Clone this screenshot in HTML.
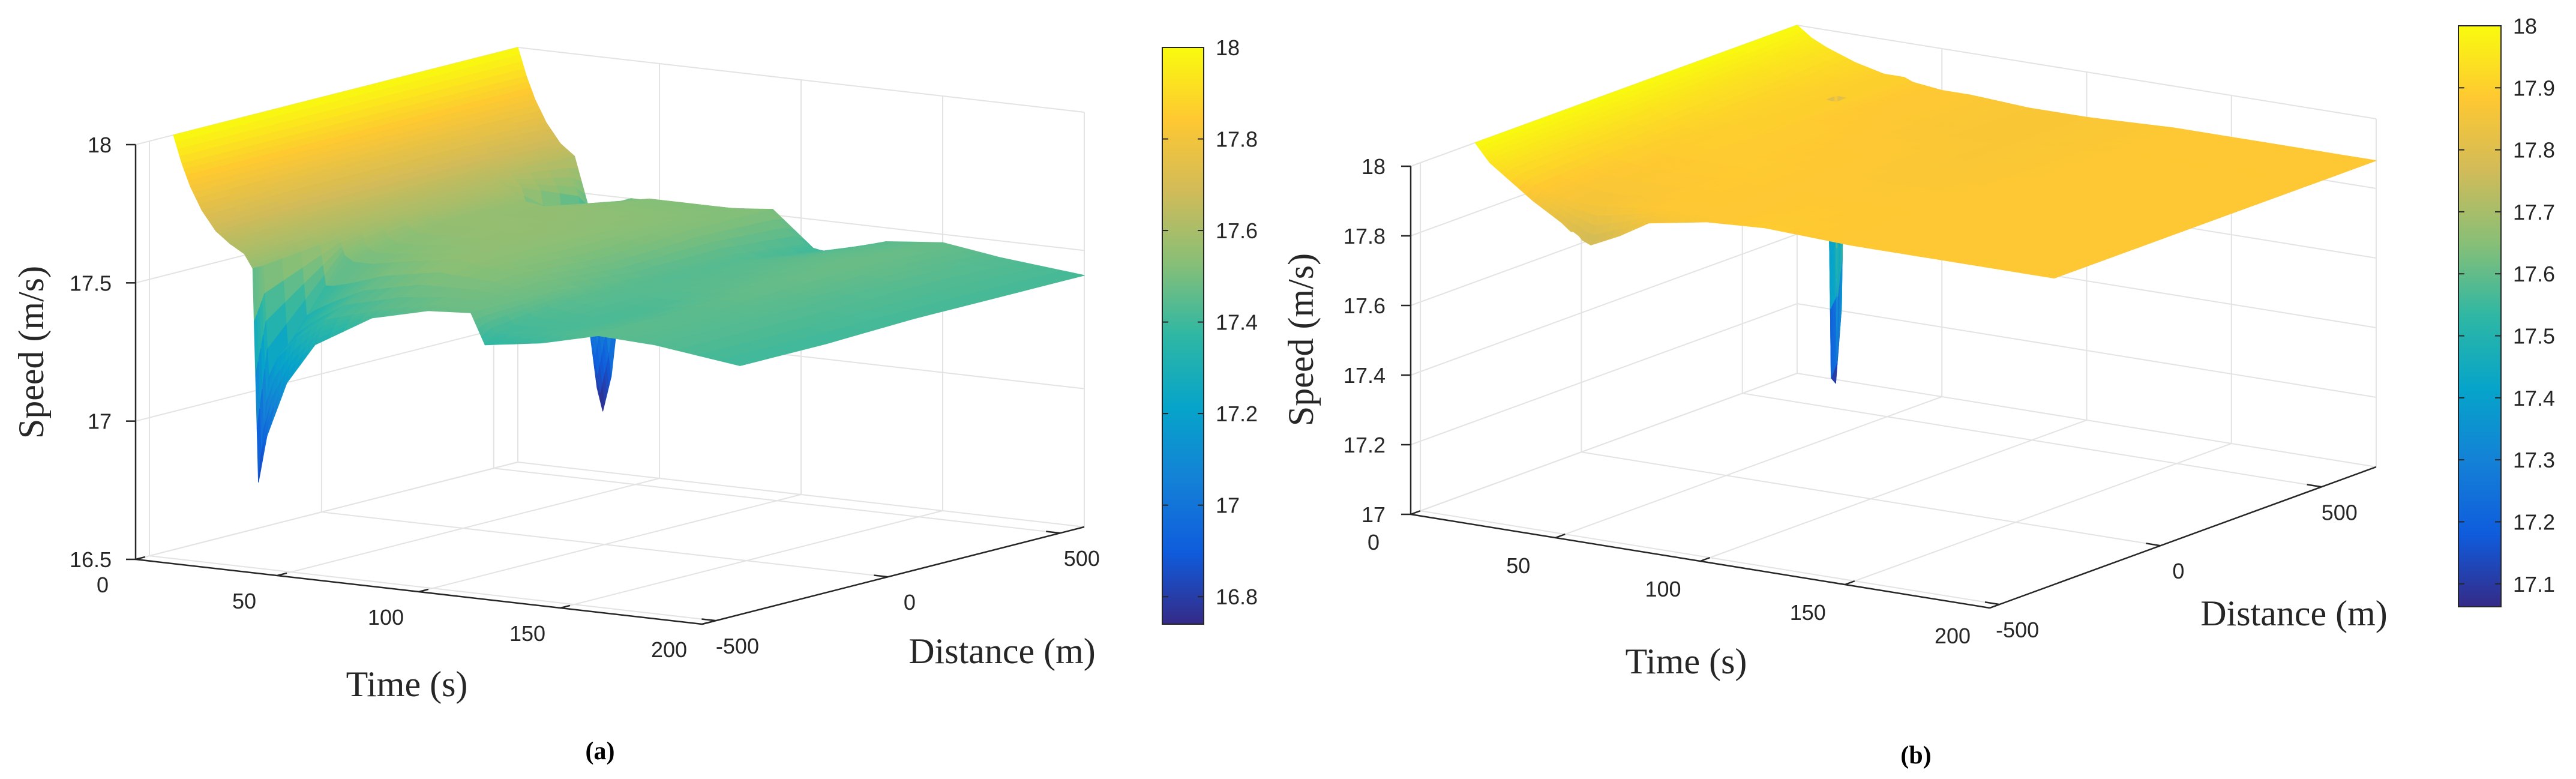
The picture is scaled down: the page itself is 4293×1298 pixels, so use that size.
<!DOCTYPE html>
<html><head><meta charset="utf-8"><style>
html,body{margin:0;padding:0;background:#fff;}
svg{display:block;}
.tk{font-family:"Liberation Sans Narrow","Liberation Sans",sans-serif;font-size:36px;fill:#262626;}
.ttl{font-family:"Liberation Serif",serif;font-size:60px;fill:#262626;}
.cap{font-family:"Liberation Serif",serif;font-size:42px;font-weight:bold;fill:#000;}
</style></head><body>
<svg id="fig" width="4293" height="1298" viewBox="0 0 4293 1298">
<g id="pa"></g>
<g id="pb"></g>
<text class="cap" x="1000" y="1265" text-anchor="middle">(a)</text>
<text class="cap" x="3193" y="1272" text-anchor="middle">(b)</text>
</svg>
<script>
// ---- Panel (a) data ----
const leftTimes = [0,3,6,10,15,20,25,28,30,33,40,50,70,90,105,110,130,150,170,200];
const leftDists = [-430,-400,-180,70,320,540,570];
const leftSpeed = [
 [18.00,17.90,17.82,17.74,17.67,17.63,17.60,17.55,16.78,16.95,17.15,17.30,17.42,17.47,17.48,17.37,17.40,17.45,17.44,17.40],
 [18.00,17.90,17.82,17.74,17.67,17.63,17.60,17.55,17.15,17.22,17.30,17.38,17.44,17.48,17.48,17.40,17.42,17.45,17.44,17.40],
 [18.00,17.90,17.82,17.75,17.68,17.64,17.61,17.58,17.52,17.50,17.50,17.52,17.55,17.52,17.48,17.45,17.42,17.45,17.44,17.40],
 [18.00,17.90,17.82,17.75,17.68,17.64,17.61,17.60,17.58,17.56,17.56,17.56,17.55,17.50,17.45,17.44,17.45,17.47,17.44,17.41],
 [18.00,17.90,17.82,17.75,17.68,17.64,17.61,17.60,17.58,17.56,17.55,17.55,17.54,17.52,17.45,17.44,17.46,17.48,17.45,17.41],
 [18.00,17.90,17.82,17.74,17.67,17.63,17.50,17.10,17.00,17.20,17.50,17.52,17.52,17.52,17.42,17.40,17.45,17.47,17.44,17.41],
 [18.00,17.90,17.82,17.74,17.67,17.63,17.45,16.80,16.72,16.85,17.50,17.50,17.50,17.52,17.39,17.39,17.45,17.47,17.44,17.41]
];
const leftZTicks = [16.5,17,17.5,18];
const leftTTicks = [0,50,100,150,200];
const leftDTicks = [-500,0,500];
const leftCbTicks = [16.8,17,17.2,17.4,17.6,17.8,18];
// ---- Panel (b) data ----
const rightTimes = [0,5,10,20,30,33,34,36,37,40,50,60,80,100,130,160,200];
const rightDists = [-330,-300,0,300,460,470,484,494,670];
const rightSpeed = [
 [18.00,17.95,17.92,17.86,17.81,17.79,17.79,17.78,17.77,17.76,17.80,17.85,17.88,17.89,17.88,17.88,17.88],
 [18.00,17.96,17.93,17.88,17.86,17.86,17.86,17.86,17.86,17.86,17.87,17.88,17.88,17.89,17.88,17.88,17.88],
 [18.00,17.96,17.93,17.90,17.89,17.89,17.89,17.89,17.89,17.89,17.89,17.89,17.88,17.88,17.88,17.88,17.88],
 [18.00,17.96,17.94,17.91,17.90,17.90,17.90,17.90,17.90,17.89,17.89,17.88,17.88,17.87,17.88,17.88,17.88],
 [18.00,17.96,17.94,17.91,17.90,17.90,17.90,17.90,17.90,17.89,17.88,17.88,17.87,17.87,17.88,17.88,17.88],
 [18.00,17.96,17.94,17.91,17.90,17.90,17.10,17.15,17.90,17.89,17.88,17.88,17.87,17.87,17.88,17.88,17.88],
 [18.00,17.96,17.94,17.91,17.90,17.90,17.08,17.30,17.90,17.89,17.88,17.88,17.87,17.87,17.88,17.88,17.88],
 [18.00,17.96,17.94,17.91,17.90,17.90,17.90,17.90,17.90,17.89,17.88,17.88,17.87,17.87,17.88,17.88,17.88],
 [18.00,17.97,17.95,17.92,17.90,17.90,17.90,17.90,17.90,17.89,17.88,17.88,17.87,17.87,17.88,17.88,17.88]
];
const rightZTicks = [17,17.2,17.4,17.6,17.8,18];
const rightTTicks = [0,50,100,150,200];
const rightDTicks = [-500,0,500];
const rightCbTicks = [17.1,17.2,17.3,17.4,17.5,17.6,17.7,17.8,17.9,18];

const NS="http://www.w3.org/2000/svg";
const parulaStops=[[0,[53,42,135]],[0.125,[15,92,221]],[0.25,[20,129,214]],[0.375,[6,164,202]],[0.5,[46,183,164]],[0.625,[135,191,119]],[0.75,[209,187,89]],[0.875,[254,200,50]],[1,[249,251,14]]];
function parula(v){v=Math.max(0,Math.min(1,v));for(let i=1;i<parulaStops.length;i++){const a=parulaStops[i-1],b=parulaStops[i];if(v<=b[0]){const f=(v-a[0])/(b[0]-a[0]);const c=a[1].map((x,k)=>Math.round(x+(b[1][k]-x)*f));return 'rgb('+c.join(',')+')';}}return 'rgb(249,251,14)';}
function mk(tag,attrs,parent){const e=document.createElementNS(NS,tag);for(const k in attrs)e.setAttribute(k,attrs[k]);parent.appendChild(e);return e;}

function drawPanel(g,P,times,dists,speed,zT,tT,dT,cbT,id){
  const pr=(t,d,z)=>{const tn=(t-P.t0)/(P.t1-P.t0),f=(d-P.d0)/(P.d1-P.d0),zn=(z-P.z0)/(P.z1-P.z0);return [P.O[0]+tn*P.T[0]+f*P.D[0],P.O[1]+tn*P.T[1]+f*P.D[1]-zn*P.Zh];};
  const line=(a,b,col,w,name)=>{const l=mk('line',{x1:a[0],y1:a[1],x2:b[0],y2:b[1],stroke:col,'stroke-width':w},g);return l;};
  const gc='#e3e3e3';
  zT.forEach(z=>{line(pr(P.t0,P.d0,z),pr(P.t0,P.d1,z),gc,2,'z-gridline');line(pr(P.t0,P.d1,z),pr(P.t1,P.d1,z),gc,2,'z-gridline');});
  dT.forEach(d=>{line(pr(P.t0,d,P.z0),pr(P.t0,d,P.z1),gc,2,'d-gridline');line(pr(P.t0,d,P.z0),pr(P.t1,d,P.z0),gc,2,'d-gridline');});
  tT.forEach(t=>{line(pr(t,P.d1,P.z0),pr(t,P.d1,P.z1),gc,2,'t-gridline');line(pr(t,P.d0,P.z0),pr(t,P.d1,P.z0),gc,2,'t-gridline');});
  // surface (bilinear subdivision of each data cell)
  const N=4;const quads=[];
  for(let i=0;i<dists.length-1;i++)for(let j=0;j<times.length-1;j++){
    const z00=speed[i][j],z01=speed[i][j+1],z10=speed[i+1][j],z11=speed[i+1][j+1];
    const bl=(u,v)=>[times[j]+(times[j+1]-times[j])*u, dists[i]+(dists[i+1]-dists[i])*v, z00*(1-u)*(1-v)+z01*u*(1-v)+z10*(1-u)*v+z11*u*v];
    for(let a=0;a<N;a++)for(let b=0;b<N;b++){
      const u0=a/N,u1=(a+1)/N,v0=b/N,v1=(b+1)/N;
      const c=[bl(u0,v0),bl(u1,v0),bl(u1,v1),bl(u0,v1)];
      const tm=(c[0][0]+c[1][0])/2,dm=(c[0][1]+c[2][1])/2;
      const depth=P.T[1]*(tm-P.t0)/(P.t1-P.t0)+P.D[1]*(dm-P.d0)/(P.d1-P.d0);
      quads.push({c,depth});
    }
  }
  quads.sort((a,b)=>a.depth-b.depth);
  const sg=mk('g',{},g);
  quads.forEach(q=>{const pts=q.c.map(p=>pr(p[0],p[1],p[2]).map(v=>v.toFixed(1)).join(',')).join(' ');
    const zm=q.c.reduce((s,p)=>s+p[2],0)/4;const col=parula((zm-P.c0)/(P.c1-P.c0));
    const poly=mk('polygon',{points:pts,fill:col,stroke:col,'stroke-width':1.2,'stroke-linejoin':'round'},sg);
    });
  // axes
  const ac='#262626';
  line(pr(P.t0,P.d0,P.z0),pr(P.t0,P.d0,P.z1),ac,2.5,'z-axis');
  line(pr(P.t0,P.d0,P.z0),pr(P.t1,P.d0,P.z0),ac,2.5,'time-axis');
  line(pr(P.t1,P.d0,P.z0),pr(P.t1,P.d1,P.z0),ac,2.5,'distance-axis');
  const txt=(x,y,s,cls,anchor,name)=>{const e=mk('text',{x:x,y:y,class:cls,'text-anchor':anchor},g);e.textContent=s;return e;};
  zT.forEach(z=>{const p=pr(P.t0,P.d0,z);line([p[0]-16,p[1]],p,ac,2.5,'z-tick');txt(p[0]-P.zlx,p[1]+13,String(z),'tk','end','z-tick-label');});
  tT.forEach(t=>{const p=pr(t,P.d0,P.z0);const q=pr(t,P.d0+(P.d1-P.d0)*0.025,P.z0);line(p,q,ac,2.5,'time-tick');txt(p[0]+P.tl[0],p[1]+P.tl[1]+13,String(t),'tk','middle','time-tick-label');});
  dT.forEach(d=>{const p=pr(P.t1,d,P.z0);const q=pr(P.t1-(P.t1-P.t0)*0.025,d,P.z0);line(p,q,ac,2.5,'distance-tick');txt(p[0]+P.dl[0],p[1]+P.dl[1]+13,String(d),'tk','middle','distance-tick-label');});
  txt(P.tt[0],P.tt[1],'Time (s)','ttl','middle','time-axis-title');
  txt(P.dtl[0],P.dtl[1],'Distance (m)','ttl','middle','distance-axis-title');
  const st=txt(0,0,'Speed (m/s)','ttl','middle','speed-axis-title');st.setAttribute('transform','translate('+P.st[0]+','+P.st[1]+') rotate(-90)');
  // colorbar
  const defs=mk('defs',{},g);const lg=mk('linearGradient',{id:'grad'+id,x1:0,y1:1,x2:0,y2:0},defs);
  parulaStops.forEach(s=>mk('stop',{offset:s[0],'stop-color':'rgb('+s[1].join(',')+')'},lg));
  const cb=P.cb;const r=mk('rect',{x:cb[0],y:cb[1],width:cb[2]-cb[0],height:cb[3]-cb[1],fill:'url(#grad'+id+')',stroke:ac,'stroke-width':2},g);
  
  cbT.forEach(v=>{const y=cb[3]-(v-P.c0)/(P.c1-P.c0)*(cb[3]-cb[1]);line([cb[0],y],[cb[0]+10,y],ac,2,'colorbar-tick');line([cb[2]-10,y],[cb[2],y],ac,2,'colorbar-tick');txt(cb[2]+20,y+13,String(v),'tk','start','colorbar-tick-label');});
}
drawPanel(document.getElementById('pa'),{O:[226,932],T:[944,108],D:[637,-162],Zh:691,t0:0,t1:200,d0:-540,d1:570,z0:16.5,z1:18,c0:16.74,c1:18,
  zlx:40,tl:[-55,42],dl:[36,42],tt:[678,1160],dtl:[1670,1105],st:[72,587],cb:[1937,79,2006,1040]},
  leftTimes,leftDists,leftSpeed,leftZTicks,leftTTicks,leftDTicks,leftCbTicks,'a');
drawPanel(document.getElementById('pb'),{O:[2351,857],T:[965,156],D:[644,-235],Zh:580,t0:0,t1:200,d0:-530,d1:670,z0:17,z1:18,c0:17.063,c1:18,
  zlx:42,tl:[-62,46],dl:[30,42],tt:[2810,1122],dtl:[3823,1042],st:[2188,566],cb:[4097,43,4168,1011]},
  rightTimes,rightDists,rightSpeed,rightZTicks,rightTTicks,rightDTicks,rightCbTicks,'b');
</script>
</body></html>
